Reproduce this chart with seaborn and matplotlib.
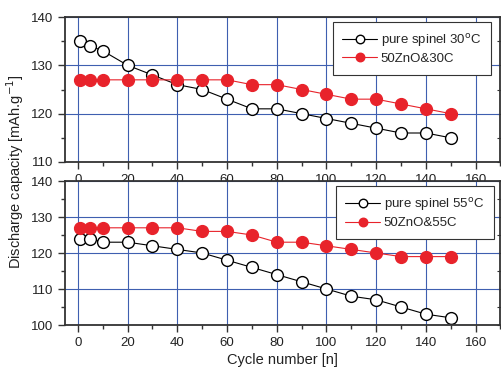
import matplotlib
matplotlib.use("Agg")
import matplotlib.pyplot as plt
from matplotlib.ticker import MultipleLocator
import seaborn as sns
import pandas as pd

sns.set_style("ticks")
plt.rcParams['font.family'] = ['Liberation Sans', 'DejaVu Sans']

# cycle numbers
cycles = [1, 5, 10, 20, 30, 40, 50, 60, 70, 80, 90, 100, 110, 120, 130, 140, 150]

# 30 C data
pure_30 = [135, 134, 133, 130, 128, 126, 125, 123, 121, 121, 120, 119, 118, 117, 116, 116, 115]
zno_30 = [127, 127, 127, 127, 127, 127, 127, 127, 126, 126, 125, 124, 123, 123, 122, 121, 120]

# 55 C data
pure_55 = [124, 124, 123, 123, 122, 121, 120, 118, 116, 114, 112, 110, 108, 107, 105, 103, 102]
zno_55 = [127, 127, 127, 127, 127, 127, 126, 126, 125, 123, 123, 122, 121, 120, 119, 119, 119]

labels_30 = ["pure spinel 30$^{\\mathrm{o}}$C", "50ZnO&30C"]
labels_55 = ["pure spinel 55$^{\\mathrm{o}}$C", "50ZnO&55C"]

red = "#e8232b"
spine_col = "#333333"
grid_col = "#3f5fb0"

fig = plt.figure(figsize=(5.02, 3.70), dpi=100)
ax1 = fig.add_axes([65.5 / 502, 1 - 162 / 370, 435 / 502, 145 / 370])
ax2 = fig.add_axes([65.5 / 502, 1 - 325 / 370, 435 / 502, 144 / 370])


def draw(ax, pure, zno, labels, ylim, anchor):
    df = pd.DataFrame({"cycle": cycles, "pure": pure, "zno": zno})
    sns.lineplot(data=df, x="cycle", y="pure", ax=ax, color="black", lw=0.8,
                 marker="o", markersize=8.5, markerfacecolor="white",
                 markeredgecolor="black", markeredgewidth=1.0, label=labels[0])
    sns.lineplot(data=df, x="cycle", y="zno", ax=ax, color=red, lw=0.8,
                 marker="o", markersize=8.5, markerfacecolor=red,
                 markeredgecolor=red, markeredgewidth=1.0, label=labels[1])
    ax.set_xlim(-5, 170)
    ax.set_ylim(*ylim)
    ax.xaxis.set_major_locator(MultipleLocator(20))
    ax.xaxis.set_minor_locator(MultipleLocator(10))
    ax.yaxis.set_major_locator(MultipleLocator(10))
    ax.yaxis.set_minor_locator(MultipleLocator(5))
    ax.grid(True, which="major", color=grid_col, lw=0.8)
    ax.set_axisbelow(True)
    for s in ax.spines.values():
        s.set_color(spine_col)
        s.set_linewidth(1.3)
        s.set_visible(True)
    ax.tick_params(axis="both", which="both", direction="out", color=spine_col,
                   labelsize=9.5, labelcolor="#222222", width=1.0)
    ax.tick_params(which="major", length=5)
    ax.tick_params(which="minor", length=3)
    ax.set_xlabel("")
    ax.set_ylabel("")
    leg = ax.legend(loc="upper right", fontsize=9.5, frameon=True, fancybox=False,
                    edgecolor="#333333", framealpha=1, handlelength=2.6,
                    handletextpad=0.3, markerscale=0.72, labelspacing=0.3,
                    borderpad=0.75, borderaxespad=0, bbox_to_anchor=anchor)
    leg.get_frame().set_linewidth(0.8)


draw(ax1, pure_30, zno_30, labels_30, (110, 140), (0.978, 0.966))
draw(ax2, pure_55, zno_55, labels_55, (100, 140), (0.985, 0.965))

# small inward ticks on the right side
for ax in (ax1, ax2):
    sec = ax.secondary_yaxis("right")
    sec.yaxis.set_major_locator(MultipleLocator(5))
    sec.tick_params(direction="in", length=3, color=spine_col, labelright=False)
    sec.spines["right"].set_visible(False)

fig.text(15 / 502, 1 - 172 / 370, "Discharge capacity [mAh.g$^{-1}$]", rotation=90,
         ha="center", va="center", fontsize=10.5, color="#222222")
fig.text(282 / 502, 1 - 360 / 370, "Cycle number [n]", ha="center", va="center",
         fontsize=10.5, color="#222222")

fig.savefig("out.png", dpi=100)
